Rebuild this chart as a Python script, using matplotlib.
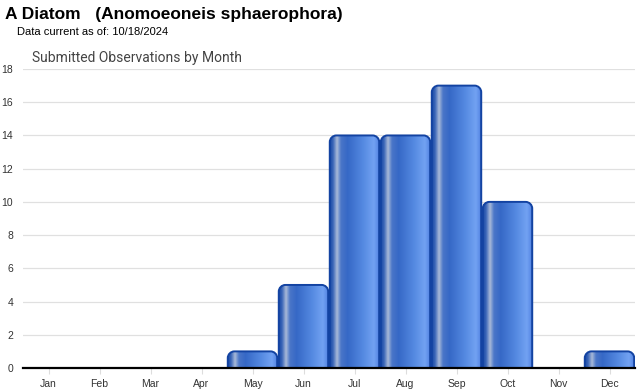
import numpy as np
import matplotlib
matplotlib.use("Agg")
import matplotlib.pyplot as plt
from matplotlib.path import Path
from matplotlib.patches import PathPatch
from matplotlib.colors import LinearSegmentedColormap

months = ["Jan", "Feb", "Mar", "Apr", "May", "Jun", "Jul", "Aug", "Sep", "Oct", "Nov", "Dec"]
counts = [0, 0, 0, 0, 1, 5, 14, 14, 17, 10, 0, 1]
yticks = [0, 2, 4, 6, 8, 10, 12, 14, 16, 18]

plt.rcParams['font.family'] = ['Liberation Sans', 'DejaVu Sans']

fig = plt.figure(figsize=(6.4, 3.9), dpi=100)
ax = fig.add_axes([23/640, 22/390, 612/640, 299/390])
ax.set_xlim(-0.5, 11.5)
ax.set_ylim(0, 18)

cmap = LinearSegmentedColormap.from_list("bar", [
    (0.0, "#1a4aa6"), (0.06, "#3a66b8"), (0.14, "#a9bad8"), (0.22, "#4a76c8"),
    (0.35, "#3668c6"), (0.65, "#5388e0"), (0.88, "#72a2f2"), (0.96, "#5a8ae6"), (1.0, "#1a4aa6")])
grad = np.linspace(0, 1, 256).reshape(1, -1)

def rounded_top(x0, x1, y0, y1, rx, ry):
    k = 0.5523
    verts = [(x0, y0), (x0, y1 - ry),
             (x0, y1 - ry + k * ry), (x0 + rx - k * rx, y1), (x0 + rx, y1),
             (x1 - rx, y1),
             (x1 - rx + k * rx, y1), (x1, y1 - ry + k * ry), (x1, y1 - ry),
             (x1, y0), (x0, y0)]
    codes = [Path.MOVETO, Path.LINETO, Path.CURVE4, Path.CURVE4, Path.CURVE4,
             Path.LINETO, Path.CURVE4, Path.CURVE4, Path.CURVE4, Path.LINETO, Path.CLOSEPOLY]
    return Path(verts, codes)

bars = ax.bar(range(len(months)), counts, width=0.97, color="none", edgecolor="none")
rx, ry = 0.13, 0.4
for b, v in zip(bars, counts):
    if v <= 0:
        continue
    x0, w, h = b.get_x(), b.get_width(), b.get_height()
    path = rounded_top(x0, x0 + w, 0, h, rx, min(ry, h / 2))
    patch = PathPatch(path, facecolor="none", edgecolor="#1343a2", lw=1.4, zorder=4)
    im = ax.imshow(grad, cmap=cmap, extent=[x0, x0 + w, 0, h], aspect="auto", zorder=3,
                   interpolation="bilinear")
    clip = PathPatch(path, transform=ax.transData, facecolor="none", edgecolor="none")
    ax.add_patch(clip)
    im.set_clip_path(clip)
    ax.add_patch(patch)

ax.set_xlim(-0.5, 11.5)
ax.set_ylim(0, 18)
ax.set_yticks(yticks)
ax.set_yticklabels([str(t) for t in yticks], fontsize=7.5, color="#333333")
ax.set_xticks(range(len(months)))
ax.set_xticklabels(months, fontsize=7.5, color="#333333")
ax.grid(axis="y", color="#e0e0e0", lw=0.9, zorder=0)
ax.set_axisbelow(True)
for s in ["top", "right", "left"]:
    ax.spines[s].set_visible(False)
ax.spines["bottom"].set_color("#000000")
ax.spines["bottom"].set_linewidth(1.6)
ax.spines["bottom"].set_zorder(5)
ax.tick_params(axis="y", length=0, pad=7)
ax.tick_params(axis="x", length=4, color="#dddddd", pad=4)

fig.text(5/640, 1 - 14/390, "A Diatom   (Anomoeoneis sphaerophora)", fontsize=12.5,
         fontweight="bold", va="center", ha="left", color="#000000")
fig.text(17/640, 1 - 32/390, "Data current as of: 10/18/2024", fontsize=8,
         va="center", ha="left", color="#000000")
fig.text(32/640, 1 - 58/390, "Submitted Observations by Month", fontsize=10,
         va="center", ha="left", color="#444444", family=["Roboto", "DejaVu Sans"])

fig.savefig("out.png", dpi=100)
